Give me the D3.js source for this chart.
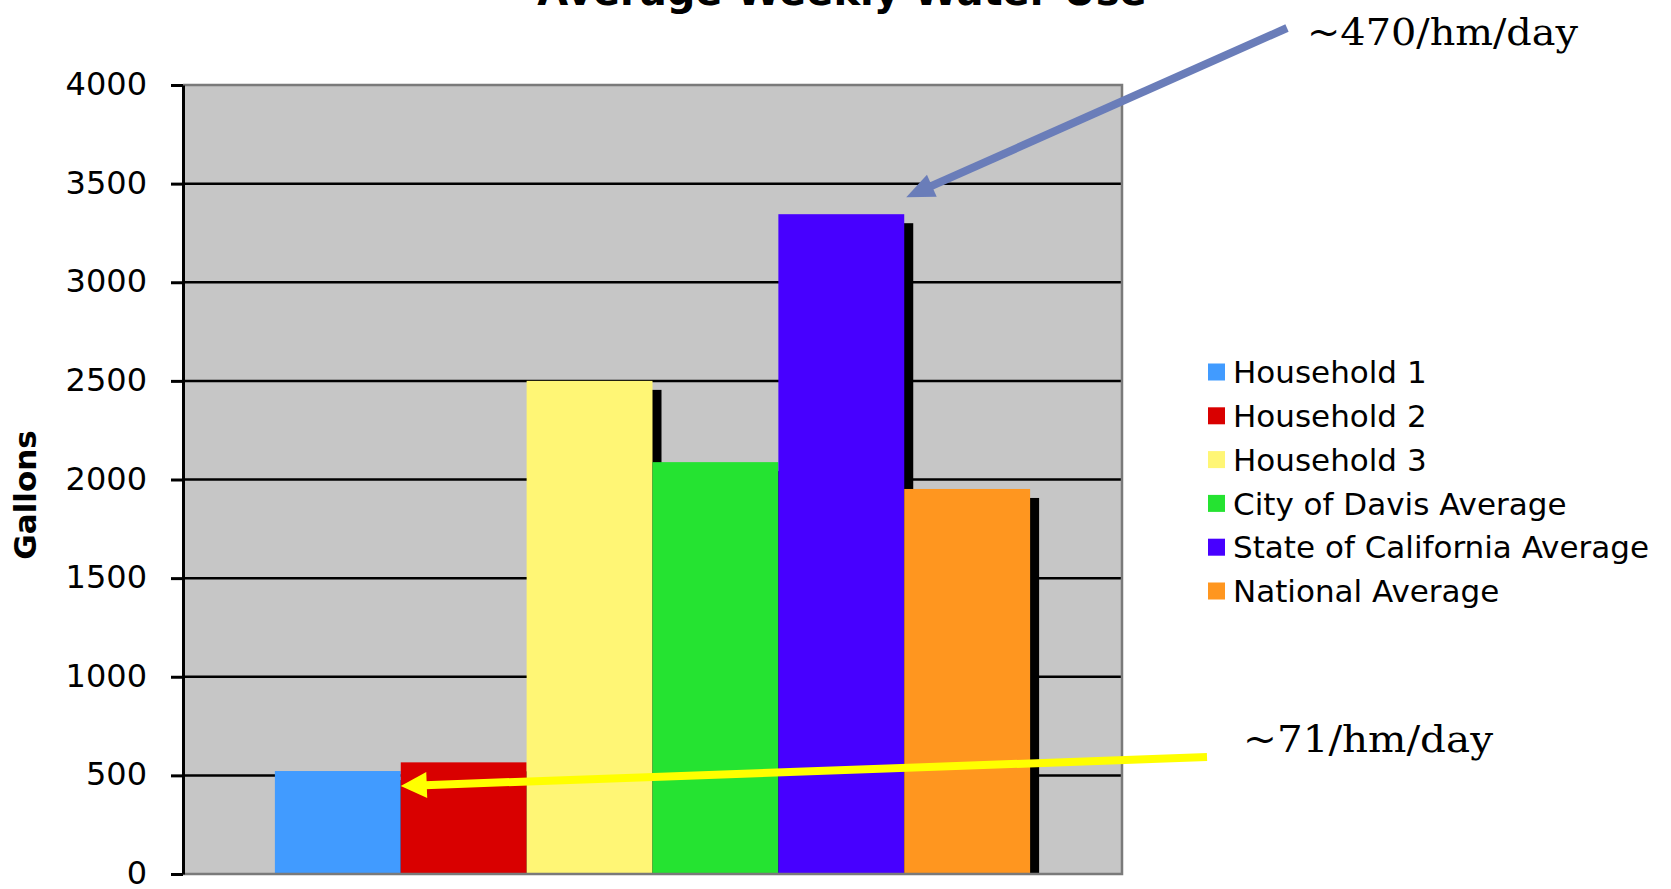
<!DOCTYPE html>
<html>
<head>
<meta charset="utf-8">
<script src="https://cdn.jsdelivr.net/npm/d3@7"></script>
<style>
  body { margin: 0; background: #fff; }
  svg { display: block; }
</style>
</head>
<body>
<div id="chart-area"></div>
<script>
// data
const categories = ["Household 1", "Household 2", "Household 3",
    "City of Davis Average", "State of California Average", "National Average"];
const gallons = [522, 566, 2500, 2088, 3345, 1952];
const barColors = ["#419bff", "#d90000", "#fff675", "#25e331", "#4700ff", "#ff961f"];
const yTicks = [0, 500, 1000, 1500, 2000, 2500, 3000, 3500, 4000];

const width = 1671, height = 889;
const plot = { left: 183, right: 1122, top: 85, bottom: 874 };

const svg = d3.select("#chart-area")
    .append("svg")
    .attr("width", width)
    .attr("height", height);

const x = d3.scaleBand()
    .domain(categories)
    .range([plot.left, plot.right])
    .paddingInner(0)
    .paddingOuter(0.73);

const y = d3.scaleLinear()
    .domain([0, 4000])
    .range([plot.bottom, plot.top]);

// plot background
svg.append("rect")
    .attr("x", plot.left)
    .attr("y", plot.top)
    .attr("width", plot.right - plot.left)
    .attr("height", plot.bottom - plot.top)
    .attr("fill", "#c6c6c6");

// gridlines
svg.selectAll("line.grid")
    .data(yTicks.filter(d => d > 0 && d < 4000))
    .enter()
    .append("line")
    .attr("class", "grid")
    .attr("x1", plot.left)
    .attr("x2", plot.right)
    .attr("y1", d => y(d))
    .attr("y2", d => y(d))
    .attr("stroke", "#000")
    .attr("stroke-width", 2.5);

const data = categories.map((c, i) => ({ name: c, value: gallons[i], color: barColors[i] }));
const shadow = 9;

// shadows first, bars on top of them
svg.selectAll("rect.shadow")
    .data(data)
    .enter()
    .append("rect")
    .attr("class", "shadow")
    .attr("x", d => x(d.name) + shadow)
    .attr("y", d => y(d.value) + shadow)
    .attr("width", x.bandwidth())
    .attr("height", d => plot.bottom - y(d.value) - shadow)
    .attr("fill", "#000");

svg.selectAll("rect.bar")
    .data(data)
    .enter()
    .append("rect")
    .attr("class", "bar")
    .attr("x", d => x(d.name))
    .attr("y", d => y(d.value))
    .attr("width", x.bandwidth())
    .attr("height", d => plot.bottom - y(d.value))
    .attr("fill", d => d.color);

// plot border (top, right, bottom)
svg.append("path")
    .attr("d", `M${plot.left},${plot.top}H${plot.right}V${plot.bottom}H${plot.left}`)
    .attr("fill", "none")
    .attr("stroke", "#7a7a7a")
    .attr("stroke-width", 2.5);

// y axis
const yAxis = svg.append("g")
    .attr("transform", `translate(${plot.left},0)`)
    .call(d3.axisLeft(y)
        .tickValues(yTicks)
        .tickFormat(d3.format("d"))
        .tickSize(12)
        .tickSizeOuter(0)
        .tickPadding(24));

yAxis.select(".domain").attr("stroke", "#000").attr("stroke-width", 3);
yAxis.selectAll(".tick line").attr("stroke", "#000").attr("stroke-width", 3);
yAxis.selectAll(".tick text")
    .attr("font-family", "DejaVu Sans, Verdana, sans-serif")
    .attr("font-size", "32px")
    .attr("dy", "0.3em")
    .attr("fill", "#000");

// y title
svg.append("text")
    .attr("transform", "translate(36,495) rotate(-90)")
    .attr("text-anchor", "middle")
    .attr("font-family", "DejaVu Sans, Verdana, sans-serif")
    .attr("font-weight", "bold")
    .attr("font-size", "31px")
    .text("Gallons");

// title, cut off at the top edge as in the source
svg.append("text")
    .attr("x", 842)
    .attr("y", 5)
    .attr("text-anchor", "middle")
    .attr("font-family", "DejaVu Sans, Verdana, sans-serif")
    .attr("font-weight", "bold")
    .attr("font-size", "40px")
    .text("Average Weekly Water Use");

// legend
const legend = svg.append("g");
const legendRows = legend.selectAll("g")
    .data(data)
    .enter()
    .append("g")
    .attr("transform", (d, i) => `translate(1208,${372 + i * 43.8})`);

legendRows.append("rect")
    .attr("x", 0)
    .attr("y", -8.5)
    .attr("width", 17)
    .attr("height", 17)
    .attr("fill", d => d.color);

legendRows.append("text")
    .attr("x", 25)
    .attr("dy", "0.36em")
    .attr("font-family", "DejaVu Sans, Verdana, sans-serif")
    .attr("font-size", "31px")
    .text(d => d.name);

// annotation arrows
function arrow(x0, y0, x1, y1, color, headLen, headHalf) {
    const dx = x1 - x0, dy = y1 - y0;
    const len = Math.sqrt(dx * dx + dy * dy);
    const ux = dx / len, uy = dy / len;
    const bx = x1 - ux * headLen, by = y1 - uy * headLen;
    svg.append("line")
        .attr("x1", x0).attr("y1", y0)
        .attr("x2", bx + ux * 2).attr("y2", by + uy * 2)
        .attr("stroke", color)
        .attr("stroke-width", 8);
    svg.append("path")
        .attr("d", `M${x1},${y1}L${bx - uy * headHalf},${by + ux * headHalf}L${bx + uy * headHalf},${by - ux * headHalf}Z`)
        .attr("fill", color);
}

const stateTip = [x(categories[4]) + x.bandwidth() + 2, y(gallons[4]) - 17];
arrow(1287, 28, stateTip[0], stateTip[1], "#6a7db9", 28, 12);

const houseTip = [x(categories[0]) + x.bandwidth(), y(gallons[0]) + 15];
arrow(1207, 757, houseTip[0], houseTip[1], "#ffff00", 26, 13);

svg.append("text")
    .attr("x", 1307)
    .attr("y", 45)
    .attr("font-family", "DejaVu Serif, Liberation Serif, serif")
    .attr("font-size", "38px")
    .attr("textLength", 271)
    .attr("lengthAdjust", "spacingAndGlyphs")
    .text("~470/hm/day");

svg.append("text")
    .attr("x", 1243)
    .attr("y", 752)
    .attr("font-family", "DejaVu Serif, Liberation Serif, serif")
    .attr("font-size", "38px")
    .attr("textLength", 250)
    .attr("lengthAdjust", "spacingAndGlyphs")
    .text("~71/hm/day");
</script>
</body>
</html>
